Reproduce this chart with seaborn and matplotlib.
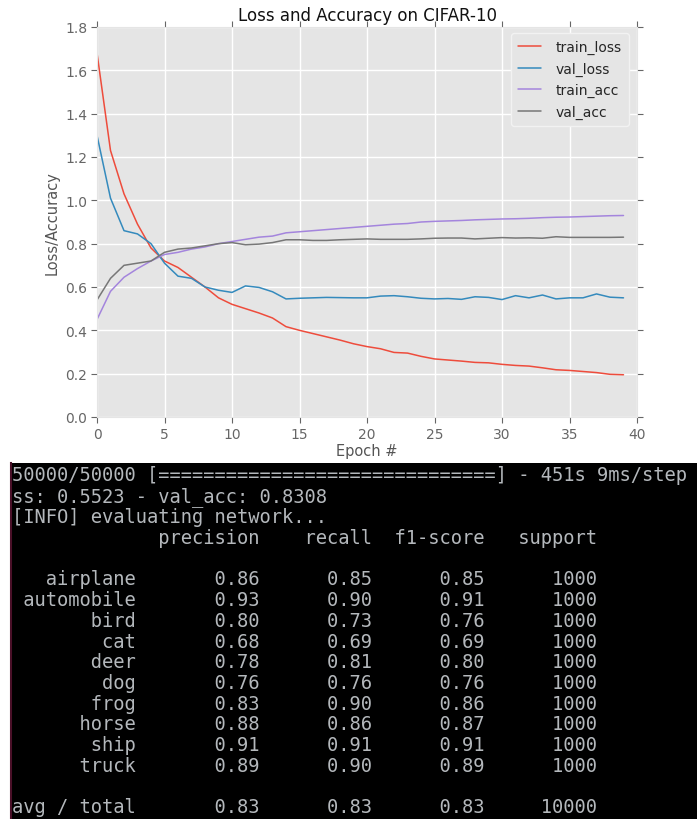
import numpy as np
import pandas as pd
import matplotlib
matplotlib.use("Agg")
import matplotlib.pyplot as plt
import seaborn as sns

# training history
epochs = list(range(40))
train_loss = [1.68, 1.23, 1.03, 0.89, 0.78, 0.72, 0.69, 0.645, 0.60, 0.55,
              0.52, 0.50, 0.48, 0.457, 0.417, 0.40, 0.385, 0.37, 0.355, 0.338,
              0.325, 0.315, 0.298, 0.295, 0.28, 0.268, 0.263, 0.258, 0.252, 0.25,
              0.243, 0.238, 0.235, 0.227, 0.218, 0.215, 0.21, 0.205, 0.197, 0.195]
val_loss = [1.30, 1.01, 0.86, 0.845, 0.80, 0.71, 0.65, 0.64, 0.60, 0.585,
            0.575, 0.605, 0.598, 0.578, 0.545, 0.548, 0.55, 0.552, 0.551, 0.55,
            0.55, 0.558, 0.56, 0.555, 0.548, 0.545, 0.547, 0.543, 0.555, 0.552,
            0.542, 0.56, 0.55, 0.563, 0.545, 0.55, 0.55, 0.568, 0.553, 0.55]
train_acc = [0.45, 0.58, 0.645, 0.685, 0.72, 0.75, 0.76, 0.775, 0.785, 0.80,
             0.81, 0.82, 0.83, 0.835, 0.85, 0.855, 0.86, 0.865, 0.87, 0.875,
             0.88, 0.885, 0.89, 0.893, 0.90, 0.903, 0.905, 0.907, 0.91, 0.912,
             0.914, 0.915, 0.917, 0.92, 0.922, 0.923, 0.925, 0.927, 0.929, 0.93]
val_acc = [0.54, 0.64, 0.70, 0.71, 0.72, 0.76, 0.775, 0.78, 0.79, 0.80,
           0.805, 0.795, 0.798, 0.805, 0.818, 0.818, 0.815, 0.815, 0.818, 0.82,
           0.822, 0.82, 0.82, 0.82, 0.822, 0.825, 0.826, 0.826, 0.822, 0.825,
           0.828, 0.826, 0.827, 0.825, 0.832, 0.829, 0.829, 0.829, 0.829, 0.83]

# classification report shown in the terminal below the plot
class_names = ["airplane", "automobile", "bird", "cat", "deer",
               "dog", "frog", "horse", "ship", "truck"]
precision = [0.86, 0.93, 0.80, 0.68, 0.78, 0.76, 0.83, 0.88, 0.91, 0.89]
recall = [0.85, 0.90, 0.73, 0.69, 0.81, 0.76, 0.90, 0.86, 0.91, 0.90]
f1 = [0.85, 0.91, 0.76, 0.69, 0.80, 0.76, 0.86, 0.87, 0.91, 0.89]
support = [1000] * 10
avg_total = [0.83, 0.83, 0.83, 10000]

series = {"train_loss": train_loss, "val_loss": val_loss,
          "train_acc": train_acc, "val_acc": val_acc}
colors = {"train_loss": "#EE4C3C", "val_loss": "#348ABD",
          "train_acc": "#A485DD", "val_acc": "#777777"}

sns.set_style("darkgrid", {"axes.facecolor": "#E5E5E5", "grid.color": "white",
                           "axes.edgecolor": "#E5E5E5"})
plt.rcParams["font.family"] = ["DejaVu Sans"]

fig = plt.figure(figsize=(6.97, 8.2), dpi=100)
ax = fig.add_axes([97 / 697, 1 - 418 / 820, 540 / 697, 390 / 820])

for name, vals in series.items():
    sns.lineplot(x=epochs, y=vals, color=colors[name], label=name,
                 linewidth=1.1, ax=ax)

ax.set_xlim(0, 40)
ax.set_ylim(0, 1.8)
ax.set_xticks(range(0, 41, 5))
ax.set_yticks(np.arange(0, 1.81, 0.2))
ax.set_yticklabels([f"{v:.1f}" for v in np.arange(0, 1.81, 0.2)])
ax.tick_params(axis="both", which="both", direction="out", length=4, width=0.8,
               colors="#666666", labelsize=10, top=True, right=True,
               bottom=True, left=True, pad=3)
ax.grid(True, color="white", linewidth=1.0)
ax.set_title("Loss and Accuracy on CIFAR-10", fontsize=12, color="#111111", pad=5)
ax.set_xlabel("Epoch #", fontsize=10.5, color="#555555", labelpad=2)
ax.set_ylabel("Loss/Accuracy", fontsize=10.5, color="#555555", labelpad=4)
ax.legend(loc="upper right", fontsize=10, frameon=True, facecolor="#E5E5E5",
          edgecolor="#F2F2F2", framealpha=1, handlelength=1.6,
          handletextpad=1.1, borderpad=0.5, labelspacing=0.55,
          borderaxespad=0, bbox_to_anchor=(0.985, 0.985))

# terminal screenshot panel
tax = fig.add_axes([11 / 697, 0, 686 / 697, (820 - 464) / 820])
tax.set_facecolor("black")
tax.set_xticks([])
tax.set_yticks([])
tax.grid(False)
for s in ["top", "right", "bottom"]:
    tax.spines[s].set_visible(False)
tax.spines["left"].set_color("#4a1028")
tax.spines["left"].set_linewidth(1.5)

lines = [
    "50000/50000 [" + "=" * 30 + "] - 451s 9ms/step",
    "ss: 0.5523 - val_acc: 0.8308",
    "[INFO] evaluating network...",
    " " * 13 + "precision    recall  f1-score   support",
    "",
]
for i, name in enumerate(class_names):
    lines.append("%11s  %9s %9s %9s %9s" % (name, f"{precision[i]:.2f}",
                 f"{recall[i]:.2f}", f"{f1[i]:.2f}", support[i]))
lines.append("")
lines.append("%11s  %9s %9s %9s %9s" % ("avg / total", f"{avg_total[0]:.2f}",
             f"{avg_total[1]:.2f}", f"{avg_total[2]:.2f}", avg_total[3]))

y0 = 476
step = 20.75
for i, line in enumerate(lines):
    if not line:
        continue
    fig.text(12 / 697, 1 - (y0 + i * step) / 820, line, family="DejaVu Sans Mono",
             fontsize=13.5, color="#b4b8bc", va="center", ha="left")

fig.savefig("out.png", dpi=100)
